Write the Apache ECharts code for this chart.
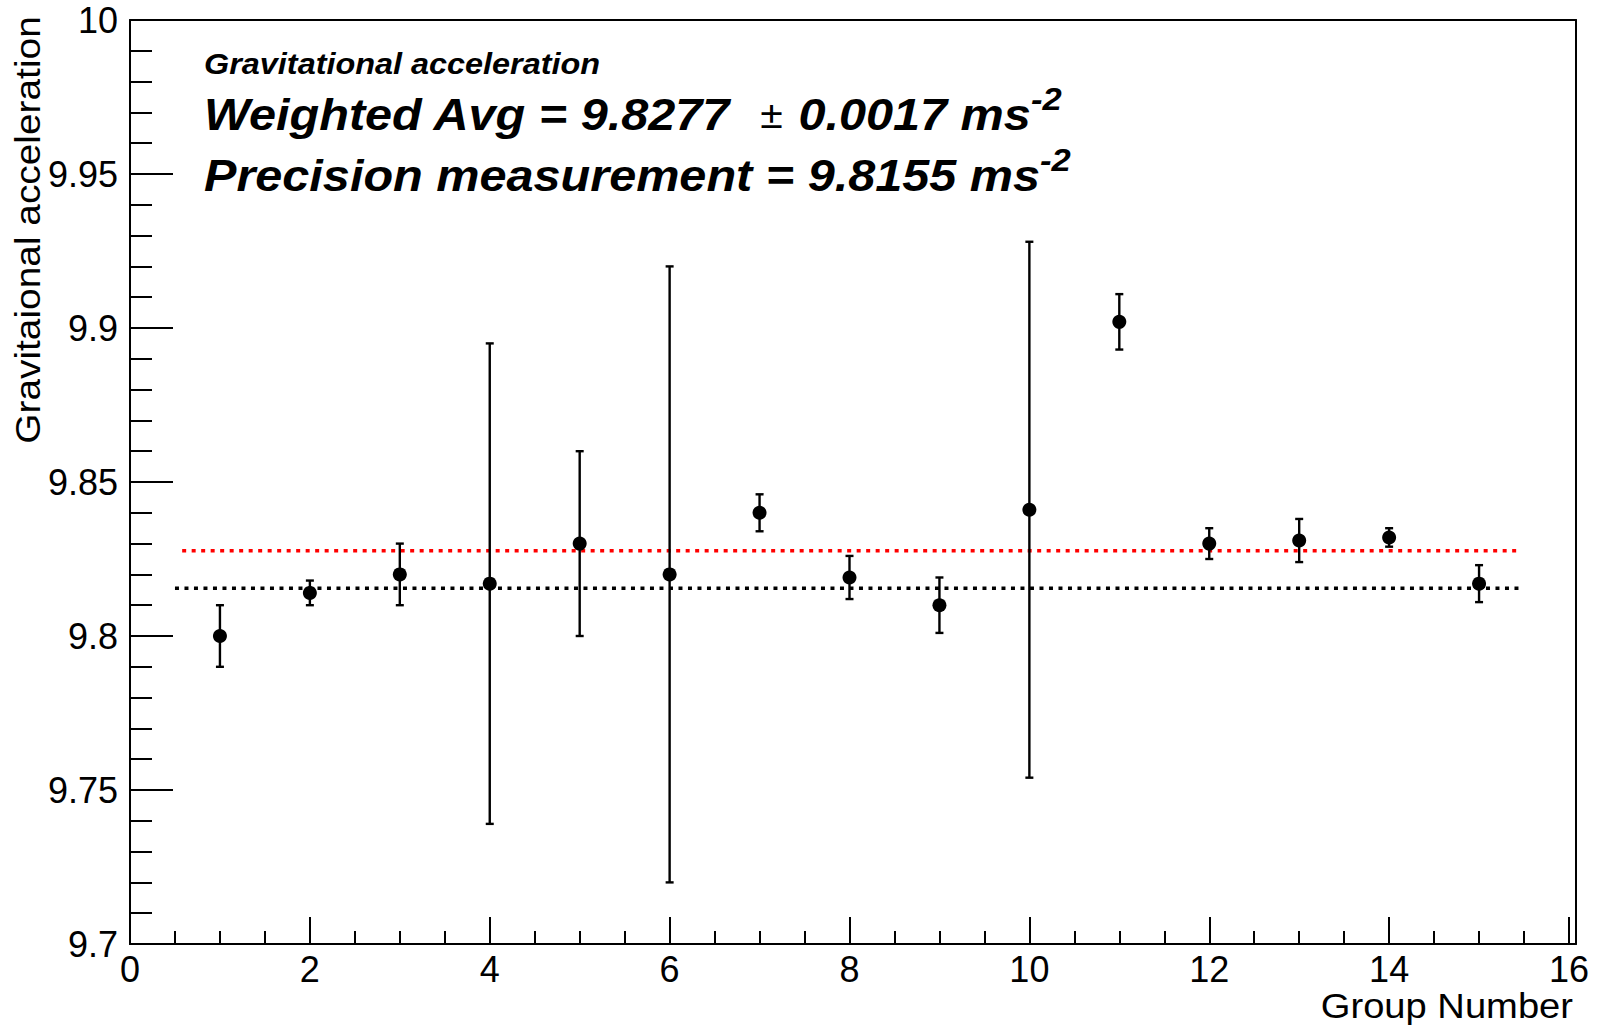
<!DOCTYPE html>
<html>
<head>
<meta charset="utf-8">
<title>Gravitational acceleration</title>
<script src="https://cdn.jsdelivr.net/npm/echarts@6/dist/echarts.min.js"></script>
<style>
  html, body { margin: 0; padding: 0; background: #fff; }
  #chart { width: 1598px; height: 1028px; }
</style>
</head>
<body>
<div id="chart"></div>
<script>
var groups = [1, 2, 3, 4, 5, 6, 7, 8, 9, 10, 11, 12, 13, 14, 15];
var gValues = [9.800, 9.814, 9.820, 9.817, 9.830, 9.820, 9.840, 9.819, 9.810, 9.841, 9.902, 9.830, 9.831, 9.832, 9.817];
var gErrors = [0.010, 0.004, 0.010, 0.078, 0.030, 0.100, 0.006, 0.007, 0.009, 0.087, 0.009, 0.005, 0.007, 0.003, 0.006];

// reference lines (weighted average and precision value)
var weightedAvg = 9.8277;
var weightedRange = [0.58, 15.42];
var precisionValue = 9.8155;
var precisionRange = [0.5, 15.46];

var FONT = 'Liberation Sans';

var myChart = echarts.init(document.getElementById('chart'), null, {renderer: 'svg'});

var pointData = [];
var barData = [];
for (var i = 0; i < groups.length; i++) {
    pointData.push([groups[i], gValues[i]]);
    barData.push([groups[i], gValues[i], gErrors[i]]);
}

function renderErrorBar(params, api) {
    var x = api.value(0), v = api.value(1), e = api.value(2);
    var hi = api.coord([x, v + e]);
    var lo = api.coord([x, v - e]);
    var cap = 4;
    var st = {stroke: '#000', lineWidth: 2.4};
    return {
        type: 'group',
        children: [
            {type: 'line', shape: {x1: hi[0], y1: hi[1], x2: lo[0], y2: lo[1]}, style: st},
            {type: 'line', shape: {x1: hi[0] - cap, y1: hi[1], x2: hi[0] + cap, y2: hi[1]}, style: st},
            {type: 'line', shape: {x1: lo[0] - cap, y1: lo[1], x2: lo[0] + cap, y2: lo[1]}, style: st}
        ]
    };
}

// frame-only axes (top / right / full-width bottom line)
function frameAxis(o) {
    o.type = 'value';
    o.min = 0;
    o.max = 1;
    o.axisLine = {show: true, onZero: false, lineStyle: {color: '#000', width: 2}};
    o.axisTick = {show: false};
    o.axisLabel = {show: false};
    o.splitLine = {show: false};
    return o;
}

var supStyle = {fontFamily: FONT, fontSize: 32, fontWeight: 'bold', fontStyle: 'italic', fill: '#000', verticalAlign: 'top', lineHeight: 2};

var option = {
    animation: false,
    backgroundColor: '#fff',
    grid: [
        {left: 130, right: 29, top: 20, bottom: 84},
        {left: 130, right: 22, top: 20, bottom: 84}
    ],
    xAxis: [{
        type: 'value',
        gridIndex: 0,
        min: 0,
        max: 16,
        interval: 2,
        axisLine: {onZero: false, lineStyle: {color: '#000', width: 2}},
        axisTick: {inside: true, length: 27, lineStyle: {color: '#000', width: 2}},
        minorTick: {show: true, splitNumber: 4, length: 13, lineStyle: {color: '#000', width: 2}},
        axisLabel: {color: '#000', fontFamily: FONT, fontSize: 36, margin: 7},
        splitLine: {show: false}
    },
        frameAxis({gridIndex: 1, position: 'bottom'}),
        frameAxis({gridIndex: 1, position: 'top'})
    ],
    yAxis: [{
        type: 'value',
        gridIndex: 0,
        min: 9.7,
        max: 10,
        interval: 0.05,
        axisLine: {show: true, onZero: false, lineStyle: {color: '#000', width: 2}},
        axisTick: {inside: true, length: 43, lineStyle: {color: '#000', width: 2}},
        minorTick: {show: true, splitNumber: 5, length: 22, lineStyle: {color: '#000', width: 2}},
        axisLabel: {
            color: '#000', fontFamily: FONT, fontSize: 36, margin: 12,
            formatter: function(v) { return String(+v.toFixed(2)); }
        },
        splitLine: {show: false}
    },
        frameAxis({gridIndex: 1, position: 'right'})
    ],
    series: [{
        type: 'line',
        xAxisIndex: 0, yAxisIndex: 0,
        data: [[weightedRange[0], weightedAvg], [weightedRange[1], weightedAvg]],
        symbol: 'none',
        lineStyle: {color: '#ff0000', width: 3.5, type: [4, 5.5]},
        z: 1
    }, {
        type: 'line',
        xAxisIndex: 0, yAxisIndex: 0,
        data: [[precisionRange[0], precisionValue], [precisionRange[1], precisionValue]],
        symbol: 'none',
        lineStyle: {color: '#000', width: 3.5, type: [4, 5.5]},
        z: 1
    }, {
        type: 'custom',
        xAxisIndex: 0, yAxisIndex: 0,
        renderItem: renderErrorBar,
        encode: {x: 0, y: 1},
        data: barData,
        z: 2
    }, {
        type: 'scatter',
        xAxisIndex: 0, yAxisIndex: 0,
        data: pointData,
        symbol: 'circle',
        symbolSize: 14,
        itemStyle: {color: '#000', opacity: 1},
        z: 3
    }],
    graphic: [{
        type: 'text',
        x: 204, y: 64,
        scaleX: 1.08,
        style: {
            text: 'Gravitational acceleration',
            fontFamily: FONT, fontSize: 30, fontWeight: 'bold', fontStyle: 'italic',
            fill: '#000', align: 'left', verticalAlign: 'middle'
        }
    }, {
        type: 'text',
        x: 204, y: 115,
        scaleX: 1.08,
        style: {
            text: 'Weighted Avg = 9.8277  {pm|±} 0.0017 ms{sup|-2}',
            fontFamily: FONT, fontSize: 45, fontWeight: 'bold', fontStyle: 'italic', lineHeight: 64,
            fill: '#000', align: 'left', verticalAlign: 'middle',
            rich: {
                pm: {fontFamily: FONT, fontSize: 38, fontWeight: 'normal', fontStyle: 'normal', fill: '#000', padding: [0, 2, 0, 2]},
                sup: supStyle
            }
        }
    }, {
        type: 'text',
        x: 204, y: 176,
        scaleX: 1.08,
        style: {
            text: 'Precision measurement = 9.8155 ms{sup|-2}',
            fontFamily: FONT, fontSize: 45, fontWeight: 'bold', fontStyle: 'italic', lineHeight: 64,
            fill: '#000', align: 'left', verticalAlign: 'middle',
            rich: {
                sup: supStyle
            }
        }
    }, {
        type: 'text',
        x: 28, y: 230,
        rotation: Math.PI / 2,
        scaleX: 1.11,
        style: {
            text: 'Gravitaional acceleration',
            fontFamily: FONT, fontSize: 35,
            fill: '#000', align: 'center', verticalAlign: 'middle'
        }
    }, {
        type: 'text',
        x: 1573, y: 1006,
        scaleX: 1.09,
        style: {
            text: 'Group Number',
            fontFamily: FONT, fontSize: 35,
            fill: '#000', align: 'right', verticalAlign: 'middle'
        }
    }]
};

myChart.setOption(option);
</script>
</body>
</html>
